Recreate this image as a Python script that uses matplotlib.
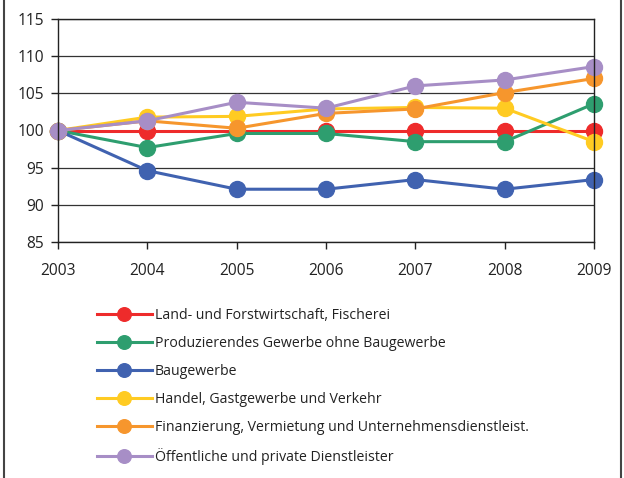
import matplotlib.pyplot as plt
from matplotlib.patches import Rectangle

years = [2003, 2004, 2005, 2006, 2007, 2008, 2009]

land = [100, 100, 100, 100, 100, 100, 100]
produz = [100, 97.7, 99.6, 99.6, 98.5, 98.5, 103.6]
bau = [100, 94.6, 92.1, 92.1, 93.4, 92.1, 93.4]
handel = [100, 101.8, 101.9, 102.9, 103.1, 103.0, 98.5]
finanz = [100, 101.3, 100.3, 102.3, 102.9, 105.1, 107.0]
oeff = [100, 101.3, 103.8, 103.0, 106.0, 106.8, 108.6]

labels = [
    "Land- und Forstwirtschaft, Fischerei",
    "Produzierendes Gewerbe ohne Baugewerbe",
    "Baugewerbe",
    "Handel, Gastgewerbe und Verkehr",
    "Finanzierung, Vermietung und Unternehmensdienstleist.",
    "Öffentliche und private Dienstleister",
]
colors = ["#EE2B2B", "#2E9E6F", "#4062B0", "#FFCB22", "#F6962D", "#A78EC6"]
series = [land, produz, bau, handel, finanz, oeff]

plt.rcParams['font.family'] = ['Open Sans', 'DejaVu Sans']

fig = plt.figure(figsize=(6.24, 4.78), dpi=100)
ax = fig.add_axes([58 / 624, 1 - 242 / 478, 536 / 624, 223 / 478])

for vals, lab, col in zip(series, labels, colors):
    ax.plot(years, vals, color=col, linewidth=2.2, marker="o", markersize=11.5,
            label=lab, clip_on=False)

ax.set_xlim(2003, 2009)
ax.set_ylim(85, 115)
ax.set_yticks(range(85, 116, 5))
ax.set_xticks(years)
ax.grid(axis="y", color="#333333", linewidth=0.9)
ax.set_axisbelow(True)
for s in ax.spines.values():
    s.set_color("#222222")
    s.set_linewidth(1.0)
ax.tick_params(axis="both", labelsize=11.2, colors="#222222", length=5, width=1.0)
ax.tick_params(axis="x", pad=10)
ax.tick_params(axis="y", pad=5)

ax.legend(loc="upper left", bbox_to_anchor=(84 / 624, 1 - 295 / 478),
          bbox_transform=fig.transFigure, frameon=False, fontsize=10.2,
          handlelength=3.9, handletextpad=0.2, labelspacing=0.92, markerscale=0.85,
          labelcolor="#222222")

# outer frame, only left and right edges visible
fig.patches.append(Rectangle((4 / 624, -0.01), 617 / 624, 1.1, transform=fig.transFigure,
                             fill=False, edgecolor="#444444", linewidth=1.5))

fig.savefig("out.png", dpi=100)
